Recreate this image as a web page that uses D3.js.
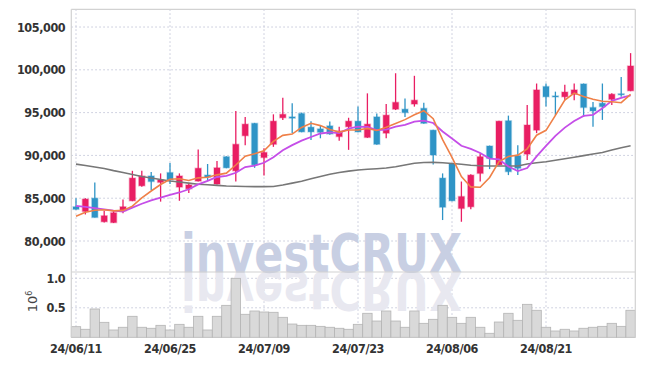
<!DOCTYPE html>
<html>
<head>
<meta charset="utf-8">
<title>Candlestick chart with moving averages and volume</title>
<script src="https://d3js.org/d3.v7.min.js"></script>
<style>
  body { margin: 0; background: #fff; }
  svg text { font-family: "DejaVu Sans", sans-serif; }
</style>
</head>
<body>
<script>
// trading days
var dates = [
  "2024-06-11", "2024-06-12", "2024-06-13", "2024-06-14", "2024-06-17", "2024-06-18", "2024-06-19", "2024-06-20", "2024-06-21", "2024-06-24",
  "2024-06-25", "2024-06-26", "2024-06-27", "2024-06-28", "2024-07-01", "2024-07-02", "2024-07-03", "2024-07-04", "2024-07-05", "2024-07-08",
  "2024-07-09", "2024-07-10", "2024-07-11", "2024-07-12", "2024-07-15", "2024-07-16", "2024-07-17", "2024-07-18", "2024-07-19", "2024-07-22",
  "2024-07-23", "2024-07-24", "2024-07-25", "2024-07-26", "2024-07-29", "2024-07-30", "2024-07-31", "2024-08-01", "2024-08-02", "2024-08-05",
  "2024-08-06", "2024-08-07", "2024-08-08", "2024-08-09", "2024-08-12", "2024-08-13", "2024-08-14", "2024-08-16", "2024-08-19", "2024-08-20",
  "2024-08-21", "2024-08-22", "2024-08-23", "2024-08-26", "2024-08-27", "2024-08-28", "2024-08-29", "2024-08-30", "2024-09-02", "2024-09-03"
];

var opens = [
  84000, 83450, 85000, 82250, 82150, 83550, 84700, 86450, 87600, 86850,
  88000, 86300, 86100, 87000, 87700, 86650, 89850, 88200, 92300, 93750,
  89750, 91300, 94400, 94500, 94900, 93300, 93100, 93450, 92200, 93350,
  94000, 92100, 94500, 92600, 95400, 95400, 96000, 95500, 92950, 87350,
  89000, 83800, 84000, 87900, 91100, 88900, 94050, 89950, 90150, 92950,
  98050, 96950, 96850, 97150, 98350, 95600, 96100, 96550, 97200, 97550
];
var highs = [
  85000, 85000, 86850, 83500, 83600, 84850, 88200, 88200, 88050, 87900,
  89100, 87900, 86700, 90700, 89000, 89350, 89900, 95200, 94500, 93800,
  90850, 94800, 96750, 96100, 95000, 94000, 93550, 93950, 93350, 94400,
  95700, 97250, 94900, 96000, 99600, 96650, 99300, 96150, 93000, 87900,
  89050, 86950, 87800, 90250, 91150, 94050, 94650, 91200, 95900, 98400,
  98400, 97450, 98250, 98400, 98400, 96250, 98400, 97250, 99150, 101950
];
var lows = [
  83650, 83100, 82750, 82150, 82100, 83250, 84650, 86350, 85950, 84600,
  86650, 84700, 85600, 86950, 87000, 86600, 88500, 86950, 91200, 88550,
  87650, 91000, 94150, 92600, 92700, 91800, 92000, 92400, 91700, 90650,
  92700, 92050, 91250, 92000, 95300, 94500, 95700, 93700, 88950, 82450,
  84650, 82250, 83700, 86950, 88400, 88850, 87700, 87700, 89450, 92600,
  95700, 94700, 96450, 96450, 94500, 93350, 94150, 95900, 96850, 97500
];
var closes = [
  83700, 84900, 82750, 82950, 83300, 84000, 87350, 87600, 86950, 87150,
  87150, 87600, 86550, 88500, 87450, 88550, 88550, 91300, 93650, 88900,
  90350, 94000, 94800, 94350, 92750, 92750, 92700, 92500, 92850, 94000,
  92750, 93650, 91300, 94700, 96200, 95000, 96450, 93750, 90050, 83950,
  84700, 85200, 87700, 89850, 89650, 94000, 88100, 88500, 93550, 97650,
  96850, 96850, 97400, 97650, 95600, 95200, 95700, 97150, 97100, 100450
];
var volumes = [
  180000, 136000, 480000, 254000, 124000, 170000, 356000, 170000, 153000, 203000,
  124000, 220000, 170000, 356000, 124000, 356000, 542000, 1000000, 390000, 446000,
  429000, 424000, 339000, 225000, 203000, 203000, 186000, 170000, 153000, 136000,
  220000, 407000, 276000, 446000, 276000, 170000, 446000, 237000, 305000, 542000,
  339000, 237000, 339000, 170000, 68000, 259000, 407000, 288000, 559000, 458000,
  170000, 107000, 136000, 107000, 153000, 170000, 186000, 237000, 186000, 458000
];

// moving averages as drawn
var ma5 = [
  82900, 83350, 83600, 83650, 83520, 83580, 84070, 85040, 85840, 86600,
  87220, 87280, 87070, 87380, 87450, 87730, 87930, 88880, 89910, 90190,
  90550, 91640, 92340, 92490, 93270, 93750, 93480, 93020, 92720, 92970,
  92970, 93160, 92920, 93300, 93730, 94180, 94740, 95230, 94290, 91840,
  89780, 87530, 86320, 86280, 87420, 89280, 89870, 90030, 90770, 92360,
  92930, 94680, 96460, 97280, 96880, 96550, 96320, 96270, 96160, 97120
];
var ma10 = [
  84100, 84000, 83850, 83700, 83550, 83450, 83900, 84350, 84750, 85060,
  85400, 85670, 86050, 86610, 87020, 87480, 87600, 87970, 88640, 88820,
  89140, 89790, 90610, 91200, 91730, 92150, 92560, 92680, 92600, 93120,
  93360, 93320, 92970, 93010, 93350, 93570, 93950, 94070, 93790, 92790,
  91980, 91130, 90770, 90290, 89630, 89530, 88700, 88170, 88520, 89890,
  91110, 92280, 93250, 94020, 94620, 94740, 95500, 96370, 96720, 97000
];
var ma60 = [
  88980, 88820, 88650, 88470, 88220, 88010, 87770, 87540, 87360, 87190,
  87010, 86900, 86760, 86640, 86570, 86500, 86430, 86390, 86360, 86350,
  86350, 86370, 86550, 86760, 86980, 87270, 87540, 87810, 88010, 88160,
  88300, 88380, 88450, 88530, 88670, 88880, 89090, 89170, 89190, 89140,
  89060, 88960, 88850, 88790, 88770, 88770, 88770, 88770, 89000, 89150,
  89260, 89440, 89610, 89790, 89980, 90170, 90340, 90630, 90890, 91140
];

var priceTicks = [80000, 85000, 90000, 95000, 100000, 105000];
var volTicks = [500000, 1000000];

var w = 645, h = 366;
var plotLeft = 71.3, plotRight = 635.3, plotTop = 9.3, mainBottom = 272, volBottom = 337.3;

var upColor = "#e91e63", downColor = "#2f94c6";

var svg = d3.select("body").append("svg")
  .attr("width", w)
  .attr("height", h);

var x = d3.scaleBand().domain(dates).range([plotLeft, plotRight]).padding(0);
var bw = x.bandwidth();
var y = d3.scaleLinear().domain([76380, 107070]).range([mainBottom, plotTop]);
var yVol = d3.scaleLinear().domain([0, 1107000]).range([volBottom, mainBottom]);

var parse = d3.timeParse("%Y-%m-%d");
var fmt = d3.timeFormat("%y/%m/%d");
var tickDates = dates.filter(function(d, i) { return i % 10 == 0; });

//Grid
var grid = svg.append("g")
  .attr("stroke", "#c3c6d8")
  .attr("stroke-width", 1)
  .attr("stroke-dasharray", "1.5,2.5");

grid.selectAll(".hp").data(priceTicks).enter().append("line")
  .attr("x1", plotLeft).attr("x2", plotRight)
  .attr("y1", function(d) { return y(d); })
  .attr("y2", function(d) { return y(d); });

grid.selectAll(".hv").data(volTicks).enter().append("line")
  .attr("x1", plotLeft).attr("x2", plotRight)
  .attr("y1", function(d) { return yVol(d); })
  .attr("y2", function(d) { return yVol(d); });

grid.selectAll(".v").data(tickDates).enter().append("line")
  .attr("x1", function(d) { return x(d) + bw / 2; })
  .attr("x2", function(d) { return x(d) + bw / 2; })
  .attr("y1", plotTop).attr("y2", volBottom);

//Watermark with reflection
var wm = svg.append("g")
  .style("font-family", "'DejaVu Sans', sans-serif")
  .style("font-weight", "bold")
  .style("font-size", "53px");
wm.append("text")
  .attr("transform", "translate(0," + (mainBottom * 2) + ") scale(1,-1)")
  .attr("x", 181).attr("y", mainBottom)
  .attr("textLength", 281).attr("lengthAdjust", "spacingAndGlyphs")
  .attr("fill", "#e8e8f0")
  .text("investCRUX");
wm.append("text")
  .attr("x", 181).attr("y", mainBottom)
  .attr("textLength", 281).attr("lengthAdjust", "spacingAndGlyphs")
  .attr("fill", "#c8cfe3")
  .text("investCRUX");

//Volume bars
svg.append("g").selectAll("rect")
  .data(volumes)
  .enter()
  .append("rect")
  .attr("x", function(d, i) { return x(dates[i]); })
  .attr("y", function(d) { return yVol(d); })
  .attr("width", bw)
  .attr("height", function(d) { return volBottom - yVol(d); })
  .attr("fill", "#d9d9d9")
  .attr("stroke", "#b4b4b4")
  .attr("stroke-width", 0.8);

//Candles
var candles = svg.append("g").selectAll("g")
  .data(dates)
  .enter()
  .append("g")
  .attr("fill", function(d, i) { return closes[i] >= opens[i] ? upColor : downColor; })
  .attr("stroke", function(d, i) { return closes[i] >= opens[i] ? upColor : downColor; });

candles.append("line")
  .attr("x1", function(d) { return x(d) + bw / 2; })
  .attr("x2", function(d) { return x(d) + bw / 2; })
  .attr("y1", function(d, i) { return y(highs[i]); })
  .attr("y2", function(d, i) { return y(lows[i]); })
  .attr("stroke-width", 1.3);

candles.append("rect")
  .attr("x", function(d) { return x(d) + bw / 2 - 3; })
  .attr("width", 6)
  .attr("y", function(d, i) { return y(Math.max(opens[i], closes[i])); })
  .attr("height", function(d, i) { return Math.max(1, Math.abs(y(opens[i]) - y(closes[i]))); })
  .attr("stroke-width", 1.5)
  .attr("stroke-opacity", 0.3);

//Moving averages
var line = d3.line()
  .x(function(d, i) { return x(dates[i]) + bw / 2; })
  .y(function(d) { return y(d); });

svg.append("path").datum(ma60)
  .attr("d", line).attr("fill", "none")
  .attr("stroke", "#777").attr("stroke-width", 1.6);
svg.append("path").datum(ma10)
  .attr("d", line).attr("fill", "none")
  .attr("stroke", "#c54ee8").attr("stroke-width", 1.8);
svg.append("path").datum(ma5)
  .attr("d", line).attr("fill", "none")
  .attr("stroke", "#ef8048").attr("stroke-width", 1.6);

//Frame
var frame = svg.append("g").attr("stroke", "#d2d2d2").attr("stroke-width", 1.2).attr("fill", "none");
frame.append("line").attr("x1", plotLeft).attr("x2", plotRight).attr("y1", plotTop).attr("y2", plotTop);
frame.append("line").attr("x1", plotLeft).attr("x2", plotRight).attr("y1", mainBottom).attr("y2", mainBottom);
frame.append("line").attr("x1", plotLeft).attr("x2", plotLeft).attr("y1", plotTop).attr("y2", volBottom);
frame.append("line").attr("x1", plotRight).attr("x2", plotRight).attr("y1", plotTop).attr("y2", volBottom);

//Axes
var yAxis = svg.append("g")
  .attr("transform", "translate(" + plotLeft + ",0)")
  .call(d3.axisLeft(y).tickValues(priceTicks).tickFormat(d3.format(",")).tickSize(0).tickPadding(6));

var vAxis = svg.append("g")
  .attr("transform", "translate(" + plotLeft + ",0)")
  .call(d3.axisLeft(yVol).tickValues(volTicks).tickFormat(function(d) { return (d / 1e6).toFixed(1); }).tickSize(0).tickPadding(6));

var xAxis = svg.append("g")
  .attr("transform", "translate(0," + volBottom + ")")
  .call(d3.axisBottom(x).tickValues(tickDates).tickFormat(function(d) { return fmt(parse(d)); }).tickSize(0).tickPadding(7));

[yAxis, vAxis, xAxis].forEach(function(a) {
  a.select(".domain").remove();
  a.selectAll("text")
    .style("font-family", "'DejaVu Sans', sans-serif")
    .style("font-stretch", "condensed")
    .style("font-size", "12.5px")
    .style("font-weight", "bold")
    .style("letter-spacing", "-0.4px")
    .attr("fill", "#333");
});

//Volume unit label
var unit = svg.append("text")
  .attr("transform", "translate(36.5,301.5) rotate(-90)")
  .attr("text-anchor", "middle")
  .attr("fill", "#444")
  .style("font-family", "'DejaVu Sans', sans-serif")
  .style("font-size", "13px");
unit.append("tspan").text("10");
unit.append("tspan").attr("dy", -5).style("font-size", "8px").text("6");
</script>
</body>
</html>
